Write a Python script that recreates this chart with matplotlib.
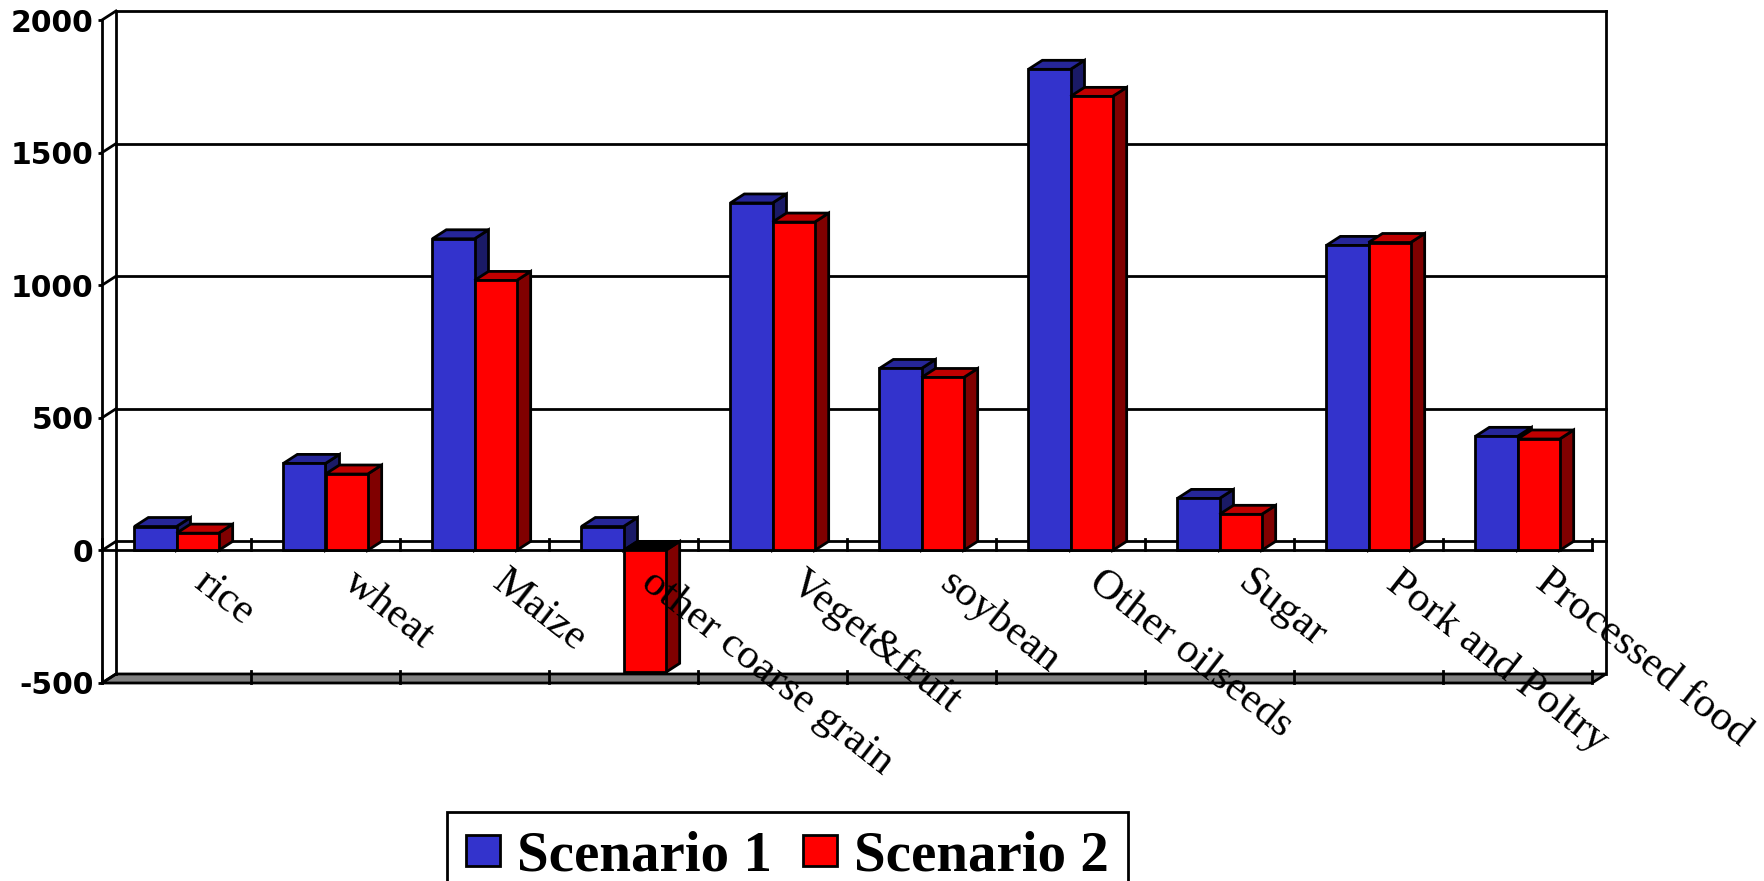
import matplotlib
matplotlib.use('Agg')
import matplotlib.pyplot as plt
from matplotlib.patches import Polygon

categories = ['rice', 'wheat', 'Maize', 'other coarse grain', 'Veget&fruit',
              'soybean', 'Other oilseeds', 'Sugar', 'Pork and Poltry', 'Processed food']
scenario1 = [90, 328, 1175, 90, 1310, 686, 1814, 196, 1150, 430]
scenario2 = [65, 288, 1018, -460, 1238, 652, 1712, 136, 1161, 420]
yticks = [-500, 0, 500, 1000, 1500, 2000]

W, H = 1764, 881
# depth of the fake 3d box, in data units
dx = 14 / 149.0
dy = 34.0
bw = 0.283
lw = 2.0

fig = plt.figure(figsize=(W / 100, H / 100), dpi=100)
ax = fig.add_axes([102.0 / W, (H - 683.0) / H, 1490.0 / W, 663.0 / H])
ax.set_xlim(0, 10)
ax.set_ylim(-500, 2000)
ax.patch.set_visible(False)
for s in ['top', 'right', 'bottom']:
    ax.spines[s].set_visible(False)
ax.spines['left'].set_linewidth(lw)
ax.spines['left'].set_zorder(3)
ax.set_xticks([])
ax.set_yticks(yticks)
ax.set_yticklabels([str(v) for v in yticks], family='DejaVu Sans', fontweight='bold', fontsize=21.5)
ax.tick_params(axis='y', length=3, width=lw, pad=3)


def line(xs, ys, z=2):
    ax.plot(xs, ys, color='black', lw=lw, clip_on=False, zorder=z, solid_capstyle='projecting')


def face(pts, color, z):
    ax.add_patch(Polygon(pts, closed=True, fc=color, ec='black', lw=lw, clip_on=False, zorder=z, joinstyle='miter'))


# walls and floor
face([(0, -500), (dx, -500 + dy), (10 + dx, -500 + dy), (10, -500)], '#808080', 1)
line([dx, dx], [-500 + dy, 2000 + dy])
line([10 + dx, 10 + dx], [-500 + dy, 2000 + dy])
for v in yticks:
    if v > -500:
        line([dx, 10 + dx], [v + dy, v + dy])
    line([0, dx], [v, v + dy])
line([0, 10], [0, 0], 2)
for i in range(11):
    line([i, i], [0, dy + 10], 2)
    line([i, i], [-500, -500 + dy + 10], 2)


def draw_bar(x, val, color, top, side, z):
    b = ax.bar(x, val, bw, align='edge', color=color, edgecolor='black', linewidth=lw, zorder=z + 0.2)
    for r in b:
        r.set_clip_on(False)
    if val < 0:
        top = 'black'
    lo = min(val, 0)
    hi = max(val, 0)
    face([(x + bw, lo), (x + bw + dx, lo + dy), (x + bw + dx, hi + dy), (x + bw, hi)], side, z)
    face([(x, hi), (x + dx, hi + dy), (x + bw + dx, hi + dy), (x + bw, hi)], top, z)
    return b


for i in range(len(categories)):
    z = 4 + i
    b1 = draw_bar(i + 0.5 - bw, scenario1[i], '#3333CC', '#262699', '#1A1A66', z)
    b2 = draw_bar(i + 0.5, scenario2[i], '#FF0000', '#C00000', '#800000', z + 0.5)
    ax.text(i + 0.65, -105, categories[i], family='Liberation Serif', fontsize=31, rotation=-38,
            rotation_mode='anchor', ha='left', va='center', zorder=30, clip_on=False)

leg = fig.legend([b1, b2], ['Scenario 1', 'Scenario 2'], ncol=2, loc='upper center',
                 bbox_to_anchor=(787.5 / W, (H - 812.0) / H), frameon=True, fancybox=False,
                 edgecolor='black', framealpha=1, handlelength=0.6, handleheight=0.47,
                 handletextpad=0.3, columnspacing=0.55, borderpad=0.33, borderaxespad=0,
                 prop={'family': 'Liberation Serif', 'weight': 'bold', 'size': 41})
leg.get_frame().set_linewidth(lw)
for p in leg.get_patches():
    p.set_linewidth(lw)
    p.set_edgecolor('black')

fig.savefig('out.png', dpi=100)
